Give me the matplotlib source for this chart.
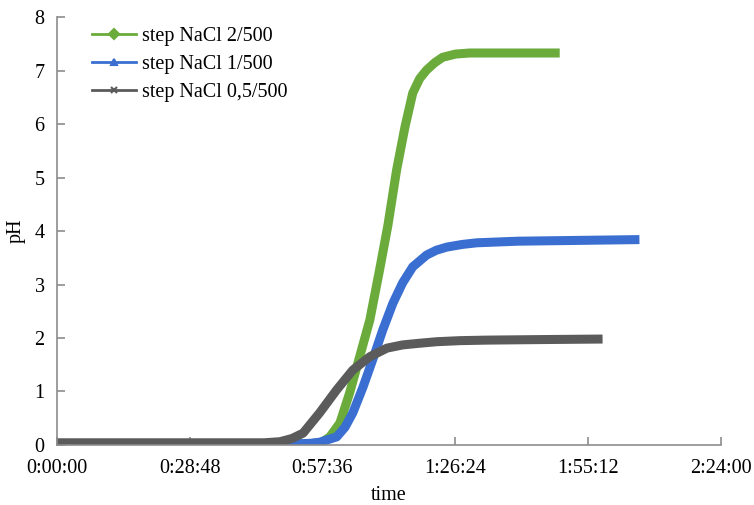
import matplotlib.pyplot as plt
import matplotlib.ticker as mticker
from matplotlib.lines import Line2D

plt.rcParams['font.family'] = ['Liberation Serif', 'DejaVu Serif']

# time in minutes, pH values
t_green = [0, 30, 55, 57.5, 59.2, 61.4, 63.5, 65.3, 67.9, 70.0, 71.8, 73.7, 75.5, 77.2,
           78.7, 80.2, 82.0, 83.7, 86.5, 89.6, 95, 109.1]
ph_green = [0.02, 0.02, 0.02, 0.05, 0.15, 0.41, 0.97, 1.53, 2.34, 3.27, 4.1, 5.14, 5.94, 6.58,
            6.85, 7.01, 7.15, 7.25, 7.31, 7.33, 7.33, 7.33]

t_blue = [0, 30, 52, 55, 57.0, 60.7, 62.5, 64.2, 66.4, 68.5, 70.7, 72.9, 75.0, 77.2,
          80.2, 82.3, 84.6, 88.0, 91.1, 100, 126.4]
ph_blue = [0.02, 0.02, 0.02, 0.03, 0.05, 0.15, 0.33, 0.6, 1.08, 1.59, 2.15, 2.65, 3.03, 3.33,
           3.55, 3.64, 3.7, 3.75, 3.78, 3.81, 3.84]

t_gray = [0, 30, 45, 48.4, 51.0, 53.4, 57.0, 60.7, 64.2, 67.9, 71.6, 75.0, 78.5, 82.4,
          87.5, 93.3, 105, 118.4]
ph_gray = [0.04, 0.04, 0.04, 0.06, 0.12, 0.22, 0.6, 1.03, 1.4, 1.65, 1.81, 1.87, 1.9, 1.93,
           1.95, 1.96, 1.97, 1.98]

labels = ['step NaCl 2/500', 'step NaCl 1/500', 'step NaCl 0,5/500']
colors = ['#6aab3c', '#3a6fd1', '#5b5b5b']
markers = ['D', '^', 'x']

xticks_min = [0, 28.8, 57.6, 86.4, 115.2, 144]
xtick_labels = ['0:00:00', '0:28:48', '0:57:36', '1:26:24', '1:55:12', '2:24:00']

fig = plt.figure(figsize=(7.54, 5.05), dpi=100)
ax = fig.add_axes([0.0756, 0.119, 0.880, 0.847])

for t, ph, c in zip([t_green, t_blue, t_gray], [ph_green, ph_blue, ph_gray], colors):
    ax.plot(t, ph, color=c, lw=6.5, solid_capstyle='butt', solid_joinstyle='round')

ax.set_xlim(0, 144)
ax.set_ylim(0, 8)
ax.set_xticks(xticks_min)
ax.set_xticklabels(xtick_labels)
ax.yaxis.set_major_locator(mticker.MultipleLocator(1))

for s in ['top', 'right']:
    ax.spines[s].set_visible(False)
for s in ['left', 'bottom']:
    ax.spines[s].set_color('#8c8c8c')
    ax.spines[s].set_linewidth(1.2)
ax.tick_params(direction='in', length=6, width=1.2, color='#8c8c8c', labelsize=14.5, pad=10)
ax.tick_params(axis='y', pad=9)

ax.set_xlabel('time', fontsize=14.5, labelpad=6)
ax.set_ylabel('pH', fontsize=14.5, labelpad=6)

handles = [Line2D([], [], color=c, lw=2, marker=m, markersize=5, markeredgewidth=1.5)
           for c, m in zip(colors, markers)]
ax.legend(handles, labels, loc='upper left', bbox_to_anchor=(0.025, 1.02), frameon=False,
          fontsize=14.5, handlelength=2.2, labelspacing=0.45, handletextpad=0.3)

fig.savefig('out.png', dpi=100)
